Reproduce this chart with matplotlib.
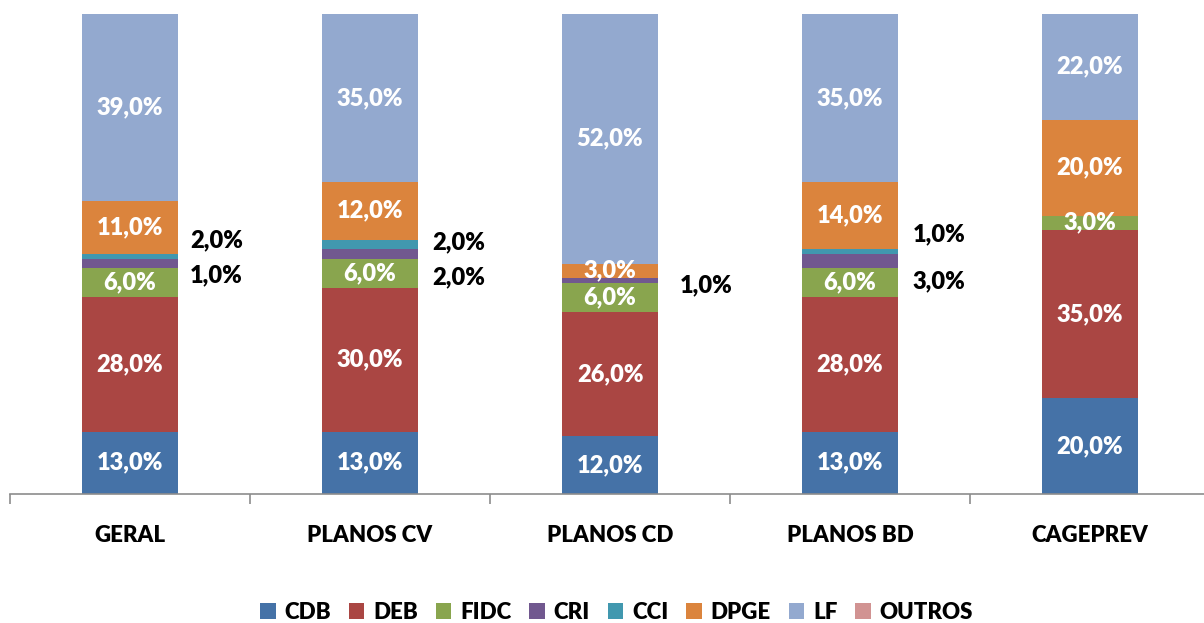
import matplotlib
matplotlib.use('Agg')
import matplotlib.pyplot as plt
import numpy as np

plt.rcParams['font.family'] = ['Lato', 'DejaVu Sans']

# Dados da carteira de crédito privado (%)
categorias = ['GERAL', 'PLANOS CV', 'PLANOS CD', 'PLANOS BD', 'CAGEPREV']
series = ['CDB', 'DEB', 'FIDC', 'CRI', 'CCI', 'DPGE', 'LF', 'OUTROS']
cdb = [13, 13, 12, 13, 20]
deb = [28, 30, 26, 28, 35]
fidc = [6, 6, 6, 6, 3]
cri = [2, 2, 1, 3, 0]
cci = [1, 2, 0, 1, 0]
dpge = [11, 12, 3, 14, 20]
lf = [39, 35, 52, 35, 22]
outros = [0, 0, 0, 0, 0]
cores = ['#4572A7', '#AA4643', '#89A54E', '#71588F', '#4198AF', '#DB843D', '#93A9CF', '#D19392']

# rótulos externos (CRI / CCI) movidos para fora das barras
ext_cat = [0, 0, 1, 1, 2, 3, 3]
ext_val = [2, 1, 2, 2, 1, 1, 3]
ext_y = [52.9, 45.6, 52.5, 45.2, 43.5, 54.2, 44.4]
ext_dx = [0.25, 0.25, 0.26, 0.26, 0.29, 0.26, 0.26]

dados = [cdb, deb, fidc, cri, cci, dpge, lf, outros]
rotular = [True, True, True, False, False, True, True, False]

fig = plt.figure(figsize=(12.04, 6.23), dpi=100)
ax = fig.add_axes([10 / 1204, 129 / 623, 1200 / 1204, 480 / 623])

x = np.arange(len(categorias))
base = np.zeros(len(categorias))
for nome, vals, cor, rot in zip(series, dados, cores, rotular):
    vals = np.array(vals, dtype=float)
    ax.bar(x, vals, bottom=base, width=0.4, color=cor, label=nome, linewidth=0)
    if rot:
        for xi, b, v in zip(x, base, vals):
            if v > 0:
                ax.text(xi, b + v / 2, f'{v:.1f}%'.replace('.', ','), ha='center', va='center',
                        color='white', fontsize=17, fontweight='heavy')
    base += vals

for c, v, y, dx in zip(ext_cat, ext_val, ext_y, ext_dx):
    ax.text(c + dx, y, f'{v:.1f}%'.replace('.', ','), ha='left', va='center',
            color='black', fontsize=17, fontweight='heavy')

ax.set_xlim(-0.5, len(categorias) - 0.5)
ax.set_ylim(0, 100)
ax.set_yticks([])
for lado in ['top', 'right', 'left']:
    ax.spines[lado].set_visible(False)
ax.spines['bottom'].set_color('#8c8c8c')
ax.spines['bottom'].set_linewidth(1.2)

ax.set_xticks(np.arange(-0.5, len(categorias)), minor=False)
ax.set_xticklabels([])
ax.tick_params(axis='x', which='major', length=7, color='#8c8c8c', width=1.2)
ax.set_xticks(x, minor=True)
ax.set_xticklabels(categorias, minor=True, fontsize=16, fontweight='heavy')
ax.tick_params(axis='x', which='minor', length=0, pad=22)

fig.legend(loc='lower center', bbox_to_anchor=(0.512, -0.032), ncol=8, frameon=False,
           handlelength=0.7, handleheight=0.7, handletextpad=0.4, columnspacing=0.8,
           prop={'size': 16, 'weight': 'heavy'})

fig.savefig('out.png', dpi=100)
